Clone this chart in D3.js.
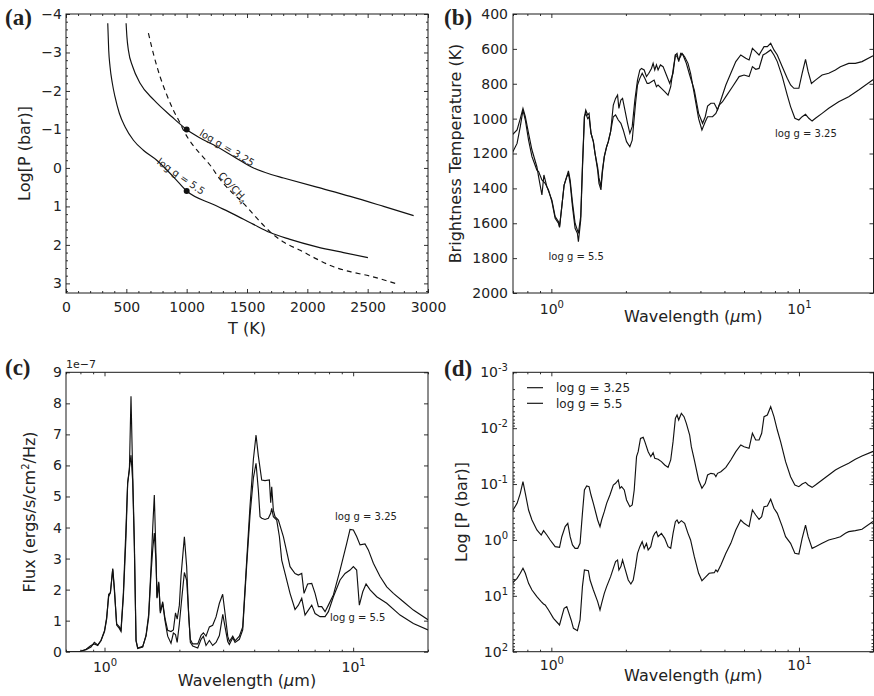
<!DOCTYPE html>
<html><head><meta charset="utf-8">
<script src="https://cdn.jsdelivr.net/npm/d3@7"></script>
<style>
body{margin:0;background:#fff}
svg{display:block}
text{font-family:"DejaVu Sans",sans-serif;fill:#222}
</style>
</head><body>
<svg id="chart" width="874" height="696"></svg>
<script>
// ---------------- DATA ----------------
// Panel (a): T-P profiles [T (K), log P (bar)]
const aProfile325 = [[498,-3.76],[505,-3.4],[517,-3.06],[553,-2.63],[614,-2.2],[730,-1.76],[877,-1.33],[1000,-1.0],[1100,-0.8],[1222,-0.6],[1388,-0.3],[1554,0.0],[1700,0.17],[1803,0.26],[2079,0.5],[2356,0.74],[2632,1.0],[2881,1.24]];
const aProfile55 = [[346,-3.76],[354,-3.06],[365,-2.63],[384,-2.2],[406,-1.85],[442,-1.42],[489,-1.07],[559,-0.72],[641,-0.46],[752,-0.2],[890,0.23],[1000,0.6],[1222,0.95],[1388,1.2],[1550,1.46],[1692,1.68],[1850,1.85],[2079,2.05],[2300,2.2],[2502,2.33]];
const aCOCH4 = [[683,-3.5],[730,-2.9],[780,-2.37],[835,-1.9],[890,-1.5],[940,-1.2],[970,-1.0],[1050,-0.6],[1112,-0.37],[1200,-0.05],[1277,0.3],[1370,0.62],[1471,0.92],[1580,1.3],[1692,1.66],[1810,1.94],[1941,2.14],[2080,2.37],[2218,2.57],[2360,2.7],[2494,2.79],[2729,3.0]];
const aDots = [[1000,-1.0],[1000,0.6]];
const aXTicks = [0,500,1000,1500,2000,2500,3000];
const aYTicks = [-4,-3,-2,-1,0,1,2,3];

// Panel (b): brightness temperature [wavelength (um), T (K)]
const bT325 = [[0.694,1199],[0.727,1142],[0.749,1046],[0.768,951],[0.785,1008],[0.809,1123],[0.835,1218],[0.874,1295],[0.888,1304],[0.916,1352],[0.944,1371],[0.974,1409],[1.005,1476],[1.036,1572],[1.069,1601],[1.079,1624],[1.102,1505],[1.126,1381],[1.154,1333],[1.172,1314],[1.191,1371],[1.217,1505],[1.247,1629],[1.274,1658],[1.286,1706],[1.314,1581],[1.335,1295],[1.360,989],[1.377,951],[1.402,979],[1.420,970],[1.446,1084],[1.478,1132],[1.501,1199],[1.538,1295],[1.557,1371],[1.586,1409],[1.606,1314],[1.636,1218],[1.672,1161],[1.698,1132],[1.735,1075],[1.779,989],[1.817,979],[1.863,1008],[1.909,1027],[1.951,1065],[2.012,1132],[2.075,1161],[2.121,1123],[2.188,912],[2.228,807],[2.277,769],[2.327,740],[2.385,769],[2.437,798],[2.475,798],[2.537,788],[2.600,779],[2.657,817],[2.698,807],[2.783,826],[2.870,845],[2.960,865],[3.034,817],[3.101,721],[3.169,635],[3.218,645],[3.268,664],[3.319,645],[3.371,626],[3.454,645],[3.563,683],[3.65,740],[3.779,860],[3.933,1000],[4.056,1065],[4.183,1018],[4.275,989],[4.477,989],[4.618,970],[4.763,922],[4.913,903],[5.067,874],[5.389,817],[5.732,759],[6.003,750],[6.288,759],[6.486,702],[6.689,717],[6.899,712],[7.159,635],[7.338,626],[7.687,606],[7.925,635],[8.175,673],[8.562,759],[8.968,865],[9.250,931],[9.627,998],[9.991,1008],[10.30,989],[10.63,975],[10.96,998],[11.30,1014],[11.66,998],[12.40,970],[13.19,941],[14.47,903],[15.88,874],[17.42,836],[19.83,779],[20.5,770]];
const bT55 = [[0.694,1094],[0.727,1065],[0.749,1000],[0.768,941],[0.785,989],[0.809,1084],[0.835,1180],[0.874,1276],[0.888,1333],[0.916,1438],[0.933,1323],[0.959,1390],[1.005,1467],[1.036,1562],[1.069,1591],[1.079,1620],[1.102,1505],[1.126,1381],[1.154,1333],[1.172,1300],[1.191,1352],[1.217,1480],[1.247,1600],[1.274,1639],[1.286,1658],[1.314,1560],[1.335,1270],[1.360,989],[1.377,970],[1.402,1000],[1.420,990],[1.446,1084],[1.478,1132],[1.501,1199],[1.538,1280],[1.557,1340],[1.586,1390],[1.606,1300],[1.636,1218],[1.672,1161],[1.698,1132],[1.735,1075],[1.779,922],[1.817,884],[1.851,865],[1.874,941],[1.909,893],[1.939,884],[1.982,951],[2.031,1027],[2.075,1084],[2.121,1046],[2.174,893],[2.228,779],[2.277,721],[2.312,712],[2.371,721],[2.422,759],[2.475,740],[2.537,712],[2.576,683],[2.616,721],[2.657,692],[2.698,721],[2.757,692],[2.826,702],[2.915,750],[3.006,798],[3.101,740],[3.169,635],[3.218,626],[3.268,673],[3.329,626],[3.402,635],[3.509,683],[3.619,750],[3.779,836],[3.933,970],[4.081,1027],[4.183,989],[4.275,928],[4.409,912],[4.547,912],[4.618,931],[4.690,951],[4.837,893],[5.067,807],[5.306,740],[5.558,673],[5.821,635],[6.097,654],[6.288,664],[6.486,597],[6.689,616],[6.899,635],[7.226,587],[7.452,587],[7.687,568],[7.925,606],[8.175,635],[8.562,702],[8.968,769],[9.250,807],[9.539,826],[9.747,826],[9.991,826],[10.30,740],[10.63,660],[10.89,731],[11.23,798],[11.66,779],[12.40,750],[13.19,740],[14.03,721],[14.70,702],[15.88,683],[16.89,683],[17.97,673],[19.83,641],[20.5,636]];
const bYTicks = [400,600,800,1000,1200,1400,1600,1800,2000];

// Panel (c): flux in units of 1e-7 ergs/s/cm^2/Hz [wavelength (um), flux]
const cF325 = [[0.70,0],[0.79,0.0],[0.843,0.08],[0.882,0.2],[0.91,0.25],[0.939,0.2],[0.968,0.37],[1.0,0.68],[1.02,1.1],[1.039,1.77],[1.056,1.9],[1.079,2.68],[1.095,2.09],[1.119,0.86],[1.147,0.75],[1.165,0.65],[1.191,1.77],[1.220,3.7],[1.239,5.42],[1.259,5.85],[1.278,8.23],[1.298,5.74],[1.318,3.59],[1.339,0.37],[1.360,0.1],[1.424,0.15],[1.469,0.53],[1.505,1.2],[1.538,2.7],[1.563,4.0],[1.586,5.05],[1.611,3.06],[1.626,1.72],[1.652,2.25],[1.677,1.24],[1.714,1.61],[1.751,1.07],[1.795,0.69],[1.851,0.65],[1.892,0.7],[1.93,1.25],[1.96,1.05],[2.0,1.5],[2.031,2.44],[2.095,3.70],[2.14,2.74],[2.181,1.13],[2.214,0.39],[2.263,0.25],[2.371,0.25],[2.445,0.53],[2.498,0.61],[2.56,0.5],[2.641,0.8],[2.723,0.85],[2.809,1.12],[2.897,1.56],[2.987,1.85],[3.053,1.24],[3.13,0.5],[3.178,0.33],[3.279,0.5],[3.35,0.35],[3.486,0.5],[3.596,0.8],[3.732,2.95],[3.848,4.7],[3.97,6.2],[4.068,6.98],[4.157,6.3],[4.288,5.53],[4.421,5.51],[4.603,5.53],[4.660,4.8],[4.704,5.31],[4.776,4.56],[4.851,4.35],[5.003,4.24],[5.240,3.71],[5.574,2.74],[5.838,2.52],[6.021,2.47],[6.211,2.52],[6.346,1.88],[6.56,2.18],[6.814,2.2],[7.028,1.88],[7.248,1.45],[7.475,1.45],[7.709,1.29],[7.951,1.5],[8.326,1.83],[8.858,2.63],[9.422,3.49],[9.716,3.94],[10.02,3.92],[10.33,3.71],[10.66,3.44],[11.16,3.47],[11.51,3.28],[12.06,2.85],[12.83,2.42],[13.65,2.09],[14.52,1.88],[15.93,1.61],[17.47,1.34],[20.0,1.03]];
const cF55 = [[0.70,0],[0.79,0.0],[0.843,0.06],[0.882,0.15],[0.91,0.3],[0.939,0.22],[0.968,0.35],[1.0,0.65],[1.02,1.05],[1.039,1.85],[1.056,1.9],[1.079,2.65],[1.095,2.0],[1.119,0.9],[1.147,0.8],[1.165,0.7],[1.191,1.9],[1.220,4.0],[1.239,5.45],[1.259,5.9],[1.278,6.33],[1.298,5.5],[1.318,3.4],[1.339,0.35],[1.360,0.12],[1.424,0.17],[1.469,0.5],[1.505,1.1],[1.538,2.5],[1.563,3.3],[1.586,3.82],[1.611,2.9],[1.626,1.75],[1.652,2.2],[1.677,1.3],[1.714,1.55],[1.751,1.0],[1.795,0.5],[1.851,0.27],[1.892,0.6],[1.93,0.55],[1.96,0.3],[2.0,0.9],[2.05,1.8],[2.095,2.55],[2.14,2.3],[2.181,1.2],[2.214,0.3],[2.263,0.18],[2.371,0.12],[2.445,0.4],[2.498,0.5],[2.56,0.2],[2.641,0.36],[2.723,0.2],[2.809,0.3],[2.897,0.52],[2.99,1.2],[3.053,0.8],[3.13,0.33],[3.178,0.23],[3.279,0.45],[3.35,0.3],[3.486,0.4],[3.596,0.7],[3.732,2.8],[3.848,4.4],[3.97,5.6],[4.068,6.07],[4.157,5.2],[4.222,4.35],[4.288,4.30],[4.421,4.26],[4.56,4.30],[4.66,4.46],[4.704,4.62],[4.776,4.35],[4.927,4.24],[5.05,3.71],[5.16,2.95],[5.322,2.52],[5.574,1.88],[5.838,1.36],[6.021,1.50],[6.211,1.72],[6.405,1.18],[6.606,1.34],[6.814,1.50],[7.028,1.23],[7.361,1.13],[7.709,1.13],[7.951,1.29],[8.326,1.77],[8.858,2.31],[9.278,2.52],[9.716,2.63],[10.02,2.74],[10.33,2.63],[10.59,1.50],[10.93,1.93],[11.27,2.18],[11.70,1.99],[12.44,1.77],[13.65,1.56],[15.44,1.18],[17.47,0.91],[20.0,0.70]];
const cYTicks = [0,1,2,3,4,5,6,7,8,9];

// Panel (d): photospheric pressure [wavelength (um), log10 P (bar)]
const dLogP325 = [[0.694,-0.506],[0.727,-0.655],[0.749,-0.834],[0.768,-1.043],[0.785,-0.834],[0.809,-0.536],[0.835,-0.357],[0.874,-0.178],[0.910,-0.088],[0.930,-0.166],[0.959,-0.088],[0.989,0.001],[1.036,0.120],[1.079,0.132],[1.102,-0.058],[1.137,-0.238],[1.165,-0.297],[1.191,-0.058],[1.217,0.090],[1.247,0.150],[1.278,0.150],[1.306,0.061],[1.335,-0.476],[1.360,-0.894],[1.389,-0.965],[1.420,-0.953],[1.446,-0.804],[1.478,-0.655],[1.538,-0.357],[1.572,-0.238],[1.596,-0.357],[1.636,-0.506],[1.672,-0.655],[1.724,-0.804],[1.779,-0.983],[1.817,-1.013],[1.863,-1.073],[1.892,-0.924],[1.921,-0.953],[1.970,-0.894],[2.012,-0.715],[2.075,-0.596],[2.121,-0.625],[2.161,-0.894],[2.208,-1.490],[2.242,-1.580],[2.291,-1.818],[2.349,-1.836],[2.385,-1.759],[2.460,-1.580],[2.521,-1.490],[2.576,-1.562],[2.616,-1.460],[2.698,-1.443],[2.783,-1.401],[2.870,-1.341],[2.960,-1.299],[3.034,-1.431],[3.101,-1.759],[3.169,-2.176],[3.218,-2.236],[3.268,-2.146],[3.350,-2.266],[3.433,-2.206],[3.509,-2.087],[3.619,-1.878],[3.675,-1.669],[3.779,-1.431],[3.933,-1.073],[4.056,-0.924],[4.183,-1.013],[4.275,-1.162],[4.409,-1.192],[4.547,-1.180],[4.618,-1.132],[4.690,-1.192],[4.837,-1.222],[5.067,-1.299],[5.306,-1.431],[5.558,-1.580],[5.821,-1.699],[6.003,-1.669],[6.288,-1.639],[6.486,-1.908],[6.689,-1.789],[6.899,-1.789],[7.07,-1.908],[7.226,-2.206],[7.452,-2.236],[7.687,-2.385],[7.925,-2.206],[8.175,-1.967],[8.43,-1.759],[8.83,-1.401],[9.25,-1.132],[9.627,-0.983],[9.991,-0.953],[10.30,-1.001],[10.63,-1.031],[10.89,-0.983],[11.30,-0.941],[11.66,-0.983],[12.40,-1.073],[13.19,-1.162],[14.03,-1.252],[14.70,-1.299],[15.88,-1.371],[16.89,-1.443],[17.97,-1.502],[19.83,-1.580],[20.5,-1.60]];
const dLogP55 = [[0.694,0.776],[0.727,0.687],[0.749,0.597],[0.768,0.508],[0.785,0.597],[0.809,0.776],[0.835,0.896],[0.874,1.015],[0.910,1.104],[0.930,1.146],[0.944,1.164],[0.974,1.254],[1.020,1.403],[1.079,1.522],[1.102,1.373],[1.126,1.224],[1.154,1.194],[1.172,1.283],[1.202,1.432],[1.228,1.582],[1.274,1.624],[1.306,1.432],[1.335,0.836],[1.360,0.538],[1.411,0.550],[1.433,0.717],[1.478,0.896],[1.538,1.104],[1.572,1.254],[1.596,1.134],[1.636,0.956],[1.672,0.836],[1.735,0.657],[1.779,0.508],[1.817,0.389],[1.851,0.359],[1.874,0.538],[1.909,0.478],[1.939,0.359],[1.982,0.508],[2.044,0.717],[2.095,0.789],[2.141,0.717],[2.188,0.478],[2.228,0.240],[2.277,0.120],[2.327,0.031],[2.371,0.150],[2.422,0.061],[2.460,0.180],[2.521,0.120],[2.576,-0.058],[2.616,-0.118],[2.657,-0.148],[2.698,-0.058],[2.783,-0.118],[2.870,-0.029],[2.960,0.120],[3.034,0.150],[3.101,-0.118],[3.169,-0.327],[3.218,-0.357],[3.268,-0.297],[3.350,-0.345],[3.454,-0.297],[3.563,-0.118],[3.65,0.0],[3.779,0.299],[3.933,0.597],[4.056,0.729],[4.183,0.669],[4.341,0.597],[4.547,0.586],[4.618,0.538],[4.690,0.568],[4.837,0.448],[5.067,0.240],[5.306,0.061],[5.558,-0.178],[5.821,-0.357],[6.003,-0.297],[6.288,-0.238],[6.486,-0.536],[6.689,-0.446],[6.899,-0.369],[7.07,-0.417],[7.226,-0.596],[7.452,-0.607],[7.687,-0.727],[7.925,-0.566],[8.175,-0.476],[8.562,-0.238],[8.83,-0.058],[9.25,0.061],[9.627,0.240],[9.991,0.252],[10.30,-0.029],[10.63,-0.267],[10.89,-0.058],[11.30,0.150],[11.66,0.120],[12.40,0.061],[13.19,0.001],[14.03,-0.029],[14.70,-0.058],[15.40,-0.118],[15.88,-0.148],[16.89,-0.166],[17.97,-0.190],[19.83,-0.327],[20.5,-0.34]];
const dYTicks = [1e-3,1e-2,1e-1,1e0,1e1,1e2];
const seriesLabels = ["log g = 3.25","log g = 5.5"];
const wlMajor = [1,10];
const wlMinor = [0.7,0.8,0.9,2,3,4,5,6,7,8,9,20];

// ---------------- DRAWING ----------------
const ink = "#1a1a1a";
const svg = d3.select("#chart");
const boxA = {x0:66, x1:428, y0:14, y1:293};
const boxB = {x0:513, x1:873.5, y0:14, y1:293};
const boxC = {x0:66, x1:428, y0:372.3, y1:651.7};
const boxD = {x0:513, x1:873.5, y0:372.3, y1:651.7};

function ticks(g, scale, kind, box, values, size, labels, fmt, pad) {
  let axis, tr;
  if (kind==="bottom"){ axis=d3.axisBottom(scale); tr=`translate(0,${box.y1})`; }
  if (kind==="top"){ axis=d3.axisTop(scale); tr=`translate(0,${box.y0})`; }
  if (kind==="left"){ axis=d3.axisLeft(scale); tr=`translate(${box.x0},0)`; }
  if (kind==="right"){ axis=d3.axisRight(scale); tr=`translate(${box.x1},0)`; }
  axis.tickValues(values).tickSize(-size).tickPadding(pad||0)
      .tickFormat(labels ? (d=>d) : (()=>""));
  const a = g.append("g").attr("transform",tr).call(axis);
  a.select(".domain").remove();
  a.attr("font-family",null).attr("font-size",null);
  a.selectAll(".tick line").attr("stroke",ink).attr("stroke-width",0.9);
  a.selectAll(".tick text").attr("fill",ink).style("font-size","14px");
  if (labels && fmt) a.selectAll(".tick text").each(function(d){ fmt(d3.select(this), d); });
  return a;
}
function minusFmt(t,d){ t.text(d<0 ? "\u2212"+(-d) : String(d)); }
function supFmt(t,d){
  const e = Math.round(Math.log10(d));
  t.text(null);
  t.append("tspan").text("10");
  t.append("tspan").attr("dy",-6).style("font-size","10px").text(e<0 ? "-"+(-e) : String(e));
}
function frame(g, box){
  g.append("rect").attr("x",box.x0).attr("y",box.y0)
   .attr("width",box.x1-box.x0).attr("height",box.y1-box.y0)
   .attr("fill","none").attr("stroke",ink).attr("stroke-width",1);
}
function clip(id, box){
  svg.append("clipPath").attr("id",id).append("rect")
    .attr("x",box.x0).attr("y",box.y0).attr("width",box.x1-box.x0).attr("height",box.y1-box.y0);
}
function panelLetter(txt, x, y){
  svg.append("text").attr("x",x).attr("y",y).text(txt)
    .style("font-family","'Liberation Serif','Times New Roman',serif")
    .style("font-weight","bold").style("font-size","23px").attr("fill","#111");
}
function yLabel(g, x, cy, build){
  const t = g.append("text").attr("transform",`translate(${x},${cy}) rotate(-90)`)
    .attr("text-anchor","middle").style("font-size","16px").attr("fill",ink);
  build(t);
}
function wlLabel(g, cx, y){
  const t = g.append("text").attr("x",cx).attr("y",y).attr("text-anchor","middle")
    .style("font-size","16px").attr("fill",ink);
  t.append("tspan").text("Wavelength (");
  t.append("tspan").style("font-style","italic").text("\u03bc");
  t.append("tspan").text("m)");
}
function drawLine(g, data, x, y, clipId, dash, curve){
  const line = d3.line().x(d=>x(d[0])).y(d=>y(d[1])).curve(curve || d3.curveLinear);
  g.append("path").datum(data).attr("d",line).attr("fill","none")
    .attr("stroke","#111").attr("stroke-width",1.15)
    .attr("stroke-dasharray",dash||null)
    .attr("clip-path",`url(#${clipId})`);
}

// ---- Panel (a) ----
{
  const g = svg.append("g");
  const x = d3.scaleLinear().domain([0,3000]).range([boxA.x0,boxA.x1]);
  const y = d3.scaleLinear().domain([-4,3.25]).range([boxA.y0,boxA.y1]);
  clip("clipA", boxA);
  drawLine(g, aProfile325, x, y, "clipA", null, d3.curveMonotoneX);
  drawLine(g, aProfile55, x, y, "clipA", null, d3.curveMonotoneX);
  drawLine(g, aCOCH4, x, y, "clipA", "5,4", d3.curveMonotoneX);
  g.selectAll("circle").data(aDots).join("circle")
    .attr("cx",d=>x(d[0])).attr("cy",d=>y(d[1])).attr("r",3).attr("fill","#111");
  const xMinor = d3.range(100,3000,100).filter(v=>v%500!==0);
  const yMinor = d3.range(-3.8,3.25,0.2).map(v=>+v.toFixed(1)).filter(v=>Math.abs(v-Math.round(v))>1e-6);
  ticks(g,x,"bottom",boxA,aXTicks,4,true,null,9);
  ticks(g,x,"top",boxA,aXTicks,4,false);
  ticks(g,x,"bottom",boxA,xMinor,2,false);
  ticks(g,x,"top",boxA,xMinor,2,false);
  ticks(g,y,"left",boxA,aYTicks,4,true,minusFmt,4);
  ticks(g,y,"right",boxA,aYTicks,4,false);
  ticks(g,y,"left",boxA,yMinor,2,false);
  ticks(g,y,"right",boxA,yMinor,2,false);
  frame(g, boxA);
  g.append("text").attr("x",(boxA.x0+boxA.x1)/2).attr("y",334).attr("text-anchor","middle")
    .style("font-size","16px").attr("fill",ink).text("T (K)");
  yLabel(g, 30, (boxA.y0+boxA.y1)/2, t=>t.text("Log[P (bar)]"));
  const ann = (T,P,ang,build)=>{
    const t = g.append("text").attr("transform",`translate(${x(T)},${y(P)}) rotate(${ang})`)
      .attr("text-anchor","middle").attr("dy","0.35em").style("font-size","10px").attr("fill","#222");
    build(t);
  };
  ann(1334,-0.52,31,t=>t.text(seriesLabels[0]));
  ann(953,0.22,35,t=>t.text(seriesLabels[1]));
  ann(1384,0.5,47,t=>{ t.append("tspan").text("CO/CH"); t.append("tspan").attr("dy",3).style("font-size","7px").text("4"); });
}

// ---- Panel (b) ----
{
  const g = svg.append("g");
  const x = d3.scaleLog().domain([0.7,20]).range([boxB.x0,boxB.x1]);
  const y = d3.scaleLinear().domain([400,2000]).range([boxB.y0,boxB.y1]);
  clip("clipB", boxB);
  drawLine(g, bT325, x, y, "clipB");
  drawLine(g, bT55, x, y, "clipB");
  ticks(g,x,"bottom",boxB,wlMajor,4,true,supFmt,11);
  ticks(g,x,"top",boxB,wlMajor,4,false);
  ticks(g,x,"bottom",boxB,wlMinor,2,false);
  ticks(g,x,"top",boxB,wlMinor,2,false);
  ticks(g,y,"left",boxB,bYTicks,4,true,null,5);
  ticks(g,y,"right",boxB,bYTicks,4,false);
  frame(g, boxB);
  wlLabel(g,(boxB.x0+boxB.x1)/2,322);
  yLabel(g, 461, (boxB.y0+boxB.y1)/2, t=>t.text("Brightness Temperature (K)"));
  g.append("text").attr("x",x(1.26)).attr("y",y(1810)).attr("text-anchor","middle")
    .style("font-size","10px").attr("fill","#222").text(seriesLabels[1]);
  g.append("text").attr("x",x(10.67)).attr("y",y(1105)).attr("text-anchor","middle")
    .style("font-size","10px").attr("fill","#222").text(seriesLabels[0]);
}

// ---- Panel (c) ----
{
  const g = svg.append("g");
  const x = d3.scaleLog().domain([0.7,20]).range([boxC.x0,boxC.x1]);
  const y = d3.scaleLinear().domain([0,9]).range([boxC.y1,boxC.y0]);
  clip("clipC", boxC);
  drawLine(g, cF325, x, y, "clipC");
  drawLine(g, cF55, x, y, "clipC");
  ticks(g,x,"bottom",boxC,wlMajor,4,true,supFmt,10);
  ticks(g,x,"top",boxC,wlMajor,4,false);
  ticks(g,x,"bottom",boxC,wlMinor,2,false);
  ticks(g,x,"top",boxC,wlMinor,2,false);
  ticks(g,y,"left",boxC,cYTicks,4,true,null,4);
  ticks(g,y,"right",boxC,cYTicks,4,false);
  frame(g, boxC);
  wlLabel(g,(boxC.x0+boxC.x1)/2,686);
  yLabel(g, 35, (boxC.y0+boxC.y1)/2, t=>{
    t.append("tspan").text("Flux (ergs/s/cm");
    t.append("tspan").attr("dy",-6).style("font-size","10px").text("2");
    t.append("tspan").attr("dy",6).text("/Hz)");
  });
  g.append("text").attr("x",boxC.x0).attr("y",368).style("font-size","11px").attr("fill",ink).text("1e\u22127");
  g.append("text").attr("x",x(8.46)).attr("y",y(4.24)).style("font-size","10px").attr("fill","#222").text(seriesLabels[0]);
  g.append("text").attr("x",x(8.07)).attr("y",y(0.99)).style("font-size","10px").attr("fill","#222").text(seriesLabels[1]);
}

// ---- Panel (d) ----
{
  const g = svg.append("g");
  const x = d3.scaleLog().domain([0.7,20]).range([boxD.x0,boxD.x1]);
  const y = d3.scaleLog().domain([1e-3,1e2]).range([boxD.y0,boxD.y1]);
  clip("clipD", boxD);
  const toP = arr => arr.map(d=>[d[0], Math.pow(10,d[1])]);
  drawLine(g, toP(dLogP325), x, y, "clipD");
  drawLine(g, toP(dLogP55), x, y, "clipD");
  const yMinor = [];
  for (let e=-3;e<2;e++) for (let k=2;k<10;k++) yMinor.push(k*Math.pow(10,e));
  ticks(g,x,"bottom",boxD,wlMajor,4,true,supFmt,8);
  ticks(g,x,"top",boxD,wlMajor,4,false);
  ticks(g,x,"bottom",boxD,wlMinor,2,false);
  ticks(g,x,"top",boxD,wlMinor,2,false);
  ticks(g,y,"left",boxD,dYTicks,4,true,supFmt,5);
  ticks(g,y,"right",boxD,dYTicks,4,false);
  ticks(g,y,"left",boxD,yMinor,2,false);
  ticks(g,y,"right",boxD,yMinor,2,false);
  frame(g, boxD);
  wlLabel(g,(boxD.x0+boxD.x1)/2,681);
  yLabel(g, 467, (boxD.y0+boxD.y1)/2, t=>t.text("Log [P (bar)]"));
  const leg = g.append("g");
  seriesLabels.forEach((s,i)=>{
    const yy = 387.7 + i*15.6;
    leg.append("line").attr("x1",527).attr("x2",543).attr("y1",yy).attr("y2",yy)
      .attr("stroke","#111").attr("stroke-width",1.15);
    leg.append("text").attr("x",556).attr("y",yy+4.5).style("font-size","12px").attr("fill",ink).text(s);
  });
}

panelLetter("(a)", 5, 25);
panelLetter("(b)", 444, 25);
panelLetter("(c)", 5, 375);
panelLetter("(d)", 444, 376);
</script>
</body></html>
